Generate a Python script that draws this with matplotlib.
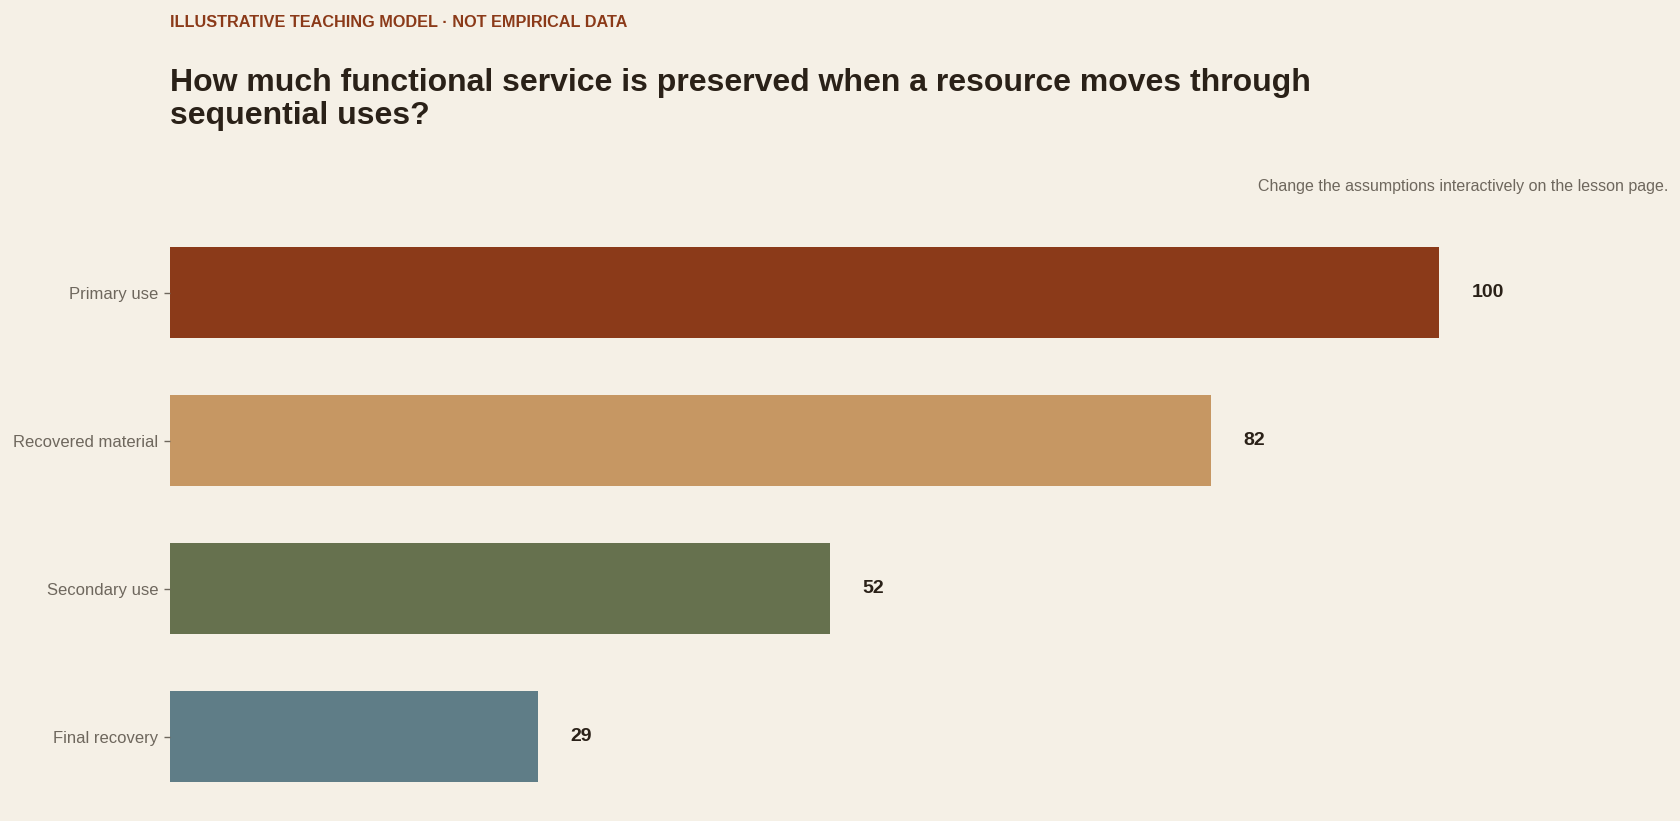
import matplotlib
matplotlib.use("Agg")
import matplotlib.pyplot as plt

# chart data
stages = ["Primary use", "Recovered material", "Secondary use", "Final recovery"]
service = [100, 82, 52, 29]
bar_colors = ["#8B3A19", "#C69763", "#66714E", "#5F7D87"]

bg = "#F5F0E6"
ink = "#2A2118"
muted = "#6E675D"

plt.rcParams["font.family"] = ["Liberation Sans", "DejaVu Sans"]

fig = plt.figure(figsize=(16.8, 8.21), dpi=100, facecolor=bg)
ax = fig.add_axes([170 / 1680, 10.5 / 821, 1498 / 1680, 592 / 821])
ax.set_facecolor(bg)

ypos = list(range(len(stages)))
ax.barh(ypos, service, height=0.615, color=bar_colors)

for y, v in zip(ypos, service):
    ax.annotate(str(v), (v, y), xytext=(23, 0), textcoords="offset points",
                ha="left", va="center", fontsize=14, fontweight="bold", color=ink)

ax.set_ylim(3.5, -0.5)
ax.set_xlim(0, max(service) * 1.18)
ax.set_yticks(ypos)
ax.set_yticklabels(stages, fontsize=12, color=muted)
ax.tick_params(axis="y", length=4.5, width=1, color=muted, pad=4)
ax.set_xticks([])
for s in ax.spines.values():
    s.set_visible(False)

fig.text(170 / 1680, 1 - 27 / 821, "ILLUSTRATIVE TEACHING MODEL \u00b7 NOT EMPIRICAL DATA",
         fontsize=11.7, fontweight="bold", color="#8B3A19", va="baseline", ha="left")
# baseline alignment here follows the last line of the title
fig.text(170 / 1680, 1 - 124 / 821,
         "How much functional service is preserved when a resource moves through\nsequential uses?",
         fontsize=23, fontweight="bold", color=ink, va="baseline", ha="left", linespacing=1.15)
fig.text(1668 / 1680, 1 - 191 / 821, "Change the assumptions interactively on the lesson page.",
         fontsize=11.5, color=muted, va="baseline", ha="right")

fig.savefig("out.png", dpi=100, facecolor=bg)
